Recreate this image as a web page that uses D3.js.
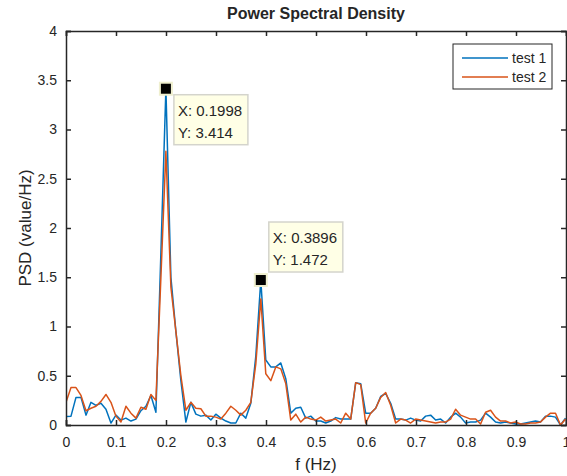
<!DOCTYPE html>
<html>
<head>
<meta charset="utf-8">
<script src="https://cdn.jsdelivr.net/npm/d3@7"></script>
<style>
  body { margin: 0; background: #fff; }
  svg text { font-family: "Liberation Sans", Arial, Helvetica, sans-serif; fill: #262626; }
</style>
</head>
<body>
<svg id="chart" width="567" height="476"></svg>
<script>
// PSD estimates, one value per frequency bin (bin width ~0.00999 Hz)
const test1 = [0.085, 0.09, 0.28, 0.28, 0.10, 0.23, 0.20, 0.22, 0.16, 0.02,
  0.10, 0.05, 0.07, 0.04, 0.06, 0.145, 0.19, 0.30, 0.13, 1.75,
  3.414, 1.5, 0.95, 0.45, 0.03, 0.23, 0.11, 0.09, 0.10, 0.05,
  0.11, 0.07, 0.04, 0.02, 0.02, 0.12, 0.07, 0.22, 0.70, 1.472,
  0.66, 0.59, 0.59, 0.63, 0.47, 0.12, 0.17, 0.18, 0.07, 0.09,
  0.04, 0.04, 0.02, 0.04, 0.075, 0.06, 0.06, 0.06, 0.43, 0.42,
  0.12, 0.12, 0.17, 0.29, 0.32, 0.22, 0.06, 0.06, 0.05, 0.07,
  0.05, 0.04, 0.09, 0.10, 0.05, 0.06, 0.02, 0.08, 0.12, 0.08,
  0.02, 0.03, 0.03, 0.05, 0.12, 0.08, 0.03, 0.02, 0.03, 0.02,
  0.01, 0.01, 0.02, 0.03, 0.04, 0.03, 0.09, 0.09, 0.08, 0.0,
  0.07];
const test2 = [0.23, 0.38, 0.38, 0.30, 0.145, 0.17, 0.19, 0.24, 0.31, 0.23,
  0.09, 0.03, 0.19, 0.12, 0.07, 0.18, 0.16, 0.31, 0.25, 1.5,
  2.78, 1.4, 0.95, 0.5, 0.15, 0.23, 0.17, 0.165, 0.09, 0.09,
  0.08, 0.06, 0.12, 0.19, 0.15, 0.10, 0.15, 0.23, 0.62, 1.28,
  0.52, 0.45, 0.59, 0.57, 0.42, 0.05, 0.11, 0.03, 0.08, 0.06,
  0.05, 0.08, 0.04, 0.05, 0.06, 0.02, 0.12, 0.06, 0.43, 0.41,
  0.02, 0.12, 0.17, 0.28, 0.33, 0.20, 0.02, 0.06, 0.05, 0.02,
  0.06, 0.05, 0.04, 0.03, 0.02, 0.03, 0.03, 0.06, 0.16, 0.10,
  0.08, 0.06, 0.06, 0.01, 0.13, 0.15, 0.08, 0.04, 0.04, 0.02,
  0.03, 0.01, 0.01, 0.02, 0.02, 0.03, 0.08, 0.12, 0.12, 0.0,
  0.06];
const binWidth = 0.00999;
const freq = d3.range(test1.length).map(i => i * binWidth);

const seriesNames = ["test 1", "test 2"];
const seriesColors = ["#0072BD", "#D95319"];
const xTicks = [0, 0.1, 0.2, 0.3, 0.4, 0.5, 0.6, 0.7, 0.8, 0.9, 1];
const yTicks = [0, 0.5, 1, 1.5, 2, 2.5, 3, 3.5, 4];
// data tips: index of bin, series
const tips = [{ i: 20, s: 0, label: ["X: 0.1998", "Y: 3.414"], below: true },
              { i: 39, s: 0, label: ["X: 0.3896", "Y: 1.472"], below: false }];

const svg = d3.select("#chart");
const margin = { top: 31, right: 1, bottom: 51, left: 66 };
const width = +svg.attr("width") - margin.left - margin.right;
const height = +svg.attr("height") - margin.top - margin.bottom;
const axisColor = "#262626";

const x = d3.scaleLinear().domain([0, 1]).range([0, width]);
const y = d3.scaleLinear().domain([0, 4]).range([height, 0]);

const g = svg.append("g").attr("transform", `translate(${margin.left},${margin.top})`);

g.append("clipPath").attr("id", "clip")
  .append("rect").attr("width", width).attr("height", height);

// lines
const allSeries = [test1, test2];
const line = d3.line().x((d, i) => x(freq[i])).y(d => y(d));
allSeries.forEach((data, s) => {
  g.append("path")
    .datum(data)
    .attr("clip-path", "url(#clip)")
    .attr("d", line)
    .style("fill", "none")
    .style("stroke", seriesColors[s])
    .style("stroke-width", "1.5px")
    .style("stroke-linejoin", "round");
});

// axes box with ticks on all sides
const xAxis = g.append("g").attr("transform", `translate(0,${height})`)
  .call(d3.axisBottom(x).tickValues(xTicks).tickSize(-5).tickPadding(12).tickFormat(d3.format("")));
const xTop = g.append("g").call(d3.axisTop(x).tickValues(xTicks).tickSize(-5).tickFormat(""));
const yAxis = g.append("g")
  .call(d3.axisLeft(y).tickValues(yTicks).tickSize(-5).tickPadding(9).tickFormat(d3.format("")));
const yRight = g.append("g").attr("transform", `translate(${width},0)`)
  .call(d3.axisRight(y).tickValues(yTicks).tickSize(-5).tickFormat(""));

[xAxis, xTop, yAxis, yRight].forEach(a => {
  a.select(".domain").attr("stroke", axisColor).attr("stroke-width", 1.5);
  a.selectAll(".tick line").attr("stroke", axisColor).attr("stroke-width", 1.5);
  a.selectAll(".tick text").style("font-size", "14px").attr("fill", axisColor);
});

// data tips
tips.forEach(t => {
  const px = x(freq[t.i]);
  const py = y(allSeries[t.s][t.i]);
  const bw = 74, bh = 50;
  const bx = px + 8;
  const by = t.below ? py + 6 : py - 8 - bh;
  g.append("rect")
    .attr("x", bx).attr("y", by).attr("width", bw).attr("height", bh)
    .style("fill", "#ffffe6").style("stroke", "#d4d4cc").style("stroke-width", "1.5px");
  t.label.forEach((txt, j) => {
    g.append("text")
      .attr("x", bx + 4).attr("y", by + 16 + j * 22)
      .attr("dy", "0.35em")
      .style("font-size", "15px")
      .style("fill", "#262626")
      .text(txt);
  });
  g.append("rect")
    .attr("x", px - 6).attr("y", py - 6).attr("width", 12).attr("height", 12)
    .style("fill", "#000").style("stroke", "#efefcf").style("stroke-width", "2px");
});

// legend
const legend = g.append("g").attr("transform", `translate(${width - 113},13)`);
legend.append("rect")
  .attr("width", 99).attr("height", 45)
  .style("fill", "#fff").style("stroke", axisColor).style("stroke-width", "1px");
seriesNames.forEach((name, i) => {
  const ly = 14 + i * 19;
  legend.append("line")
    .attr("x1", 9).attr("x2", 55).attr("y1", ly).attr("y2", ly)
    .style("stroke", seriesColors[i]).style("stroke-width", "1.5px");
  legend.append("text")
    .attr("x", 59).attr("y", ly).attr("dy", "0.35em")
    .style("font-size", "14px")
    .text(name);
});

// title and labels
svg.append("text")
  .attr("x", margin.left + width / 2).attr("y", 19)
  .style("font-size", "16px").style("font-weight", "bold")
  .style("text-anchor", "middle").attr("fill", "#000")
  .text("Power Spectral Density");

svg.append("text")
  .attr("x", margin.left + width / 2).attr("y", 470)
  .style("font-size", "17px").style("text-anchor", "middle")
  .text("f (Hz)");

svg.append("text")
  .attr("transform", `translate(31,${margin.top + height / 2}) rotate(-90)`)
  .style("font-size", "17px").style("text-anchor", "middle")
  .text("PSD (value/Hz)");
</script>
</body>
</html>
